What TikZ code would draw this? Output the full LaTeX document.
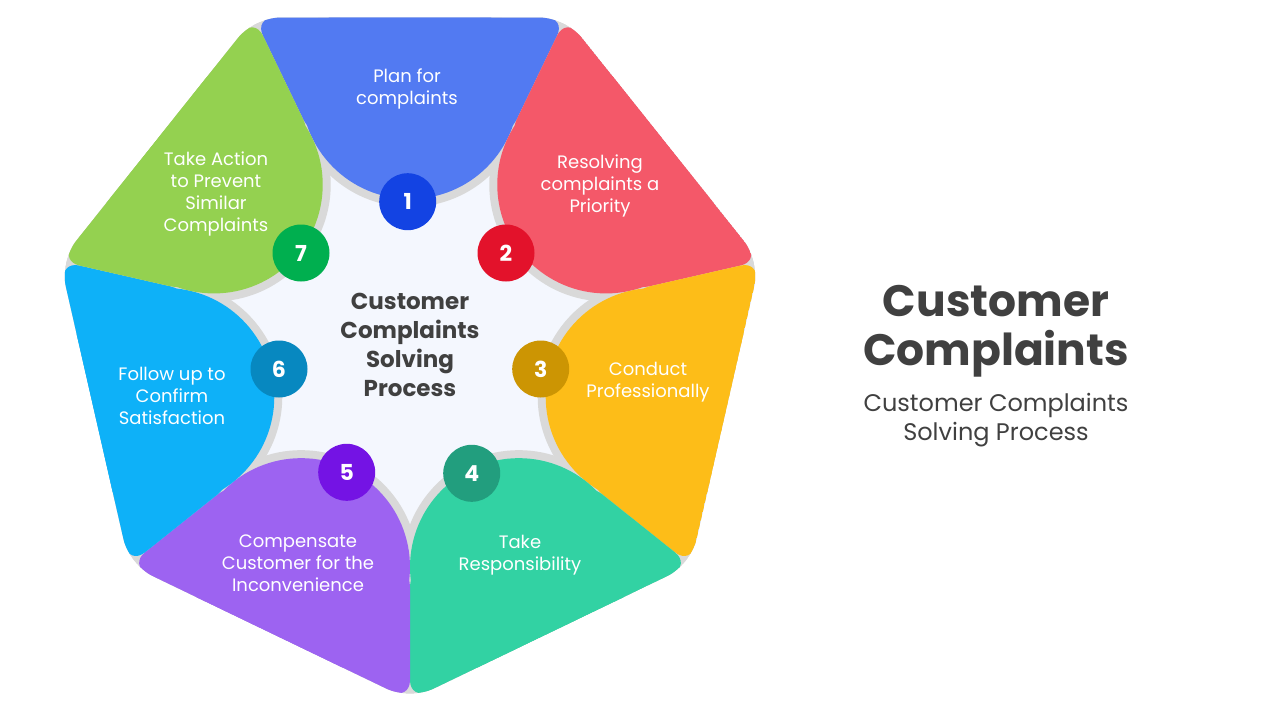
\documentclass[tikz,border=0pt]{standalone}
\usepackage{fontspec}
\setmainfont{Poppins}
\usetikzlibrary{calc}
\definecolor{cBlue}{HTML}{527AF2}
\definecolor{cRed}{HTML}{F45869}
\definecolor{cYellow}{HTML}{FDBD18}
\definecolor{cTeal}{HTML}{32D2A3}
\definecolor{cPurple}{HTML}{9D63F1}
\definecolor{cCyan}{HTML}{0EB1F8}
\definecolor{cLime}{HTML}{94D150}
\definecolor{dBlue}{HTML}{1343E3}
\definecolor{dRed}{HTML}{E3122B}
\definecolor{dYellow}{HTML}{CC9503}
\definecolor{dTeal}{HTML}{229E7E}
\definecolor{dPurple}{HTML}{7413E4}
\definecolor{dCyan}{HTML}{0788C0}
\definecolor{dLime}{HTML}{00AF4F}
\definecolor{shadowgray}{HTML}{D9D9D9}
\definecolor{hubbg}{HTML}{F4F7FE}
\definecolor{darktxt}{HTML}{404040}
\tikzset{
  segshadow/.style={draw=shadowgray,line width=8pt,line join=round},
  segtxt/.style={text=white,align=center,font=\fontsize{9}{11}\selectfont},
  badge/.style={circle,minimum size=28.5pt,inner sep=0pt,text=white,font=\bfseries\fontsize{11}{13}\selectfont},
  hubtxt/.style={text=darktxt,align=center,font=\bfseries\fontsize{11.5}{14.5}\selectfont},
  titletxt/.style={text=darktxt,align=center,font=\bfseries\fontsize{22}{24.5}\selectfont},
  subtxt/.style={text=darktxt,align=center,font=\fontsize{12}{14.5}\selectfont}
}

\begin{document}
\begin{tikzpicture}[x=0.5pt,y=0.5pt]
  \useasboundingbox (0,0) rectangle (1280,720);
  \coordinate (O) at (410,379);
  % Heptagon corners
  \foreach \i in {0,...,6}
    \coordinate (v\i) at ($(O)+({115.714-\i*51.4286}:359)$);

  \begin{scope}
    \clip[rounded corners=13pt] (v0) -- (v1) -- (v2) -- (v3) -- (v4) -- (v5) -- (v6) -- cycle;
    % Base, hub and shadows
    \fill[shadowgray] (0,0) rectangle (820,720);
    \fill[hubbg] (O) circle[radius=245];
    \foreach \k in {0,...,6}{
      \pgfmathsetmacro{\a}{90-\k*51.4286}
      \draw[segshadow,rounded corners=10pt] ($(O)+(\a+25.714:226)$) -- ($(O)+(\a+25.714:359)$) -- ($(O)+(\a-25.714:359)$) -- ($(O)+(\a-25.714:226)$) -- cycle;
      \draw[segshadow] ($(O)+(\a:250.8)$) circle[radius=108.8];
    }
    % Segments
    \foreach \k/\col in {0/cBlue,1/cRed,2/cYellow,3/cTeal,4/cPurple,5/cCyan,6/cLime}{
      \pgfmathsetmacro{\a}{90-\k*51.4286}
      \fill[\col,rounded corners=10pt] ($(O)+(\a+25.714:226)$) -- ($(O)+(\a+25.714:359)$) -- ($(O)+(\a-25.714:359)$) -- ($(O)+(\a-25.714:226)$) -- cycle;
      \fill[\col] ($(O)+(\a:250.8)$) circle[radius=108.8];
    }
  \end{scope}

  % Segment labels
  \node[segtxt] (l1) at (407,631) {Plan for\\complaints};
  \node[segtxt] (l2) at (600,534) {Resolving\\complaints a\\Priority};
  \node[segtxt] (l3) at (648,338) {Conduct\\Professionally};
  \node[segtxt] (l4) at (520,165) {Take\\Responsibility};
  \node[segtxt] (l5) at (298,157) {Compensate\\Customer for the\\Inconvenience};
  \node[segtxt] (l6) at (172,324) {Follow up to\\Confirm\\Satisfaction};
  \node[segtxt] (l7) at (216,526) {Take Action\\to Prevent\\Similar\\Complaints};

  % Number badges
  \foreach \n/\x/\y/\col in {1/407.7/518.3/dBlue,2/506/467/dRed,3/540.7/351/dYellow,4/471.7/246.7/dTeal,5/346.7/247.7/dPurple,6/279/351/dCyan,7/301/467/dLime}
    \node[badge,fill=\col] (b\n) at (\x,\y) {\n};

  % Hub text
  \node[hubtxt] (hub) at (410,375) {Customer\\Complaints\\Solving\\Process};

  % Title on the right
  \node[titletxt] (title) at (996,389) {Customer\\Complaints};
  \node[subtxt] (subtitle) at (996,300) {Customer Complaints\\Solving Process};
\end{tikzpicture}
\end{document}
